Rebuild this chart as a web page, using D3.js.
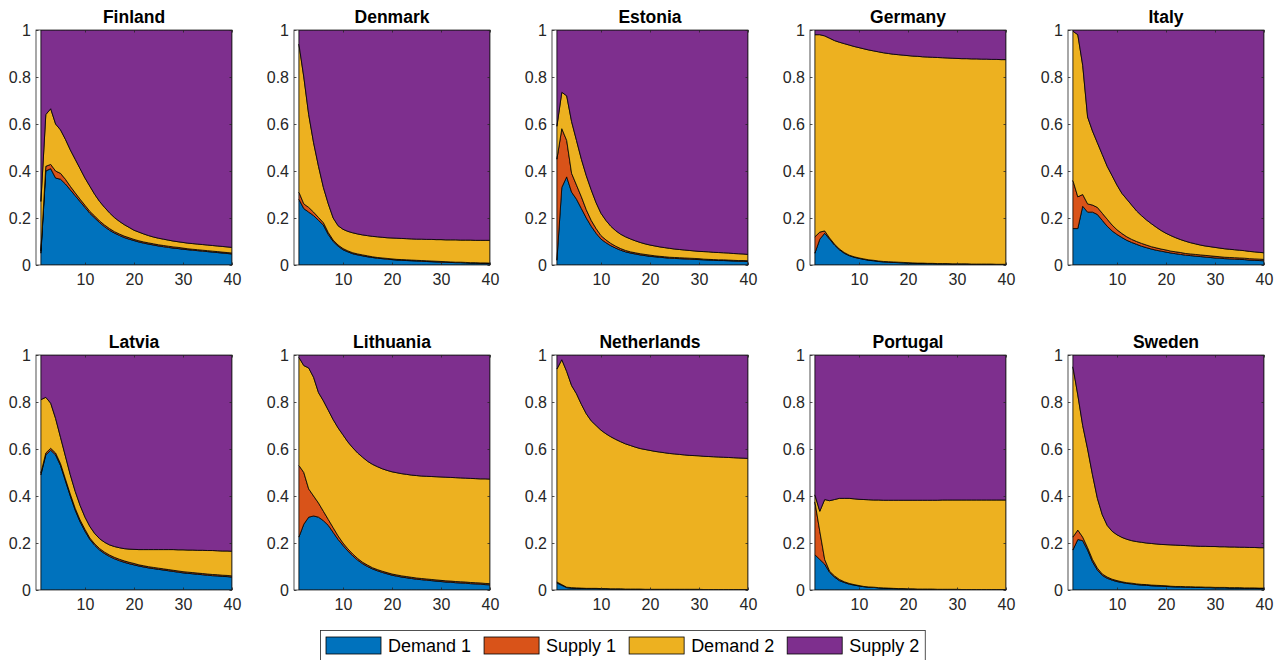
<!DOCTYPE html>
<html>
<head>
<meta charset="utf-8">
<script src="https://cdn.jsdelivr.net/npm/d3@7"></script>
<style>
  body { margin: 0; background: #fff; }
  svg text { font-family: "Liberation Sans", Arial, Helvetica, sans-serif; }
</style>
</head>
<body>
<div id="chart"></div>
<script>
// forecast horizons and shock names
const horizons = [1,2,3,4,5,6,7,8,9,10,11,12,13,14,15,16,17,18,19,20,21,22,23,24,25,26,27,28,29,30,31,32,33,34,35,36,37,38,39,40];
const shockNames = ['Demand 1', 'Supply 1', 'Demand 2', 'Supply 2'];
const shockColors = ['#0072BD', '#D95319', '#EDB120', '#7E2F8E'];
const countries = ['Finland', 'Denmark', 'Estonia', 'Germany', 'Italy', 'Latvia', 'Lithuania', 'Netherlands', 'Portugal', 'Sweden'];
const xTicks = [10, 20, 30, 40];
const yTicks = [0, 0.2, 0.4, 0.6, 0.8, 1];

// variance shares per country
const finD1 = [0.05,0.40,0.41,0.37,0.365,0.345,0.32,0.295,0.27,0.245,0.22,0.20,0.18,0.163,0.148,0.136,0.126,0.117,0.110,0.104,0.098,0.093,0.089,0.085,0.081,0.078,0.075,0.072,0.070,0.067,0.065,0.063,0.061,0.059,0.057,0.055,0.053,0.051,0.049,0.047];
const finS1 = [0.01,0.02,0.018,0.03,0.025,0.02,0.015,0.012,0.010,0.009,0.008,0.008,0.007,0.007,0.007,0.006,0.006,0.006,0.006,0.005,0.005,0.005,0.005,0.005,0.005,0.005,0.005,0.005,0.005,0.005,0.004,0.004,0.004,0.004,0.004,0.004,0.004,0.004,0.004,0.004];
const finD2 = [0.21,0.22,0.237,0.20,0.185,0.17,0.155,0.143,0.13,0.116,0.107,0.092,0.083,0.075,0.067,0.060,0.054,0.049,0.044,0.039,0.037,0.034,0.031,0.029,0.028,0.027,0.026,0.025,0.024,0.024,0.024,0.024,0.024,0.024,0.024,0.024,0.024,0.024,0.024,0.024];
const finS2 = [0.73,0.36,0.335,0.40,0.425,0.465,0.51,0.55,0.59,0.63,0.665,0.70,0.73,0.755,0.778,0.798,0.814,0.828,0.84,0.852,0.86,0.868,0.875,0.881,0.886,0.89,0.894,0.898,0.901,0.904,0.907,0.909,0.911,0.913,0.915,0.917,0.919,0.921,0.923,0.925];

const denD1 = [0.28,0.24,0.225,0.21,0.19,0.17,0.13,0.10,0.08,0.065,0.056,0.048,0.043,0.039,0.035,0.032,0.029,0.027,0.025,0.023,0.021,0.020,0.019,0.018,0.017,0.016,0.015,0.014,0.013,0.012,0.012,0.011,0.010,0.010,0.009,0.008,0.008,0.007,0.007,0.006];
const denS1 = [0.03,0.02,0.02,0.015,0.012,0.01,0.008,0.006,0.005,0.005,0.004,0.004,0.004,0.004,0.004,0.003,0.003,0.003,0.003,0.003,0.003,0.003,0.003,0.003,0.003,0.003,0.003,0.003,0.003,0.003,0.002,0.002,0.002,0.002,0.002,0.002,0.002,0.002,0.002,0.002];
const denD2 = [0.63,0.54,0.395,0.295,0.218,0.15,0.122,0.094,0.082,0.082,0.083,0.085,0.085,0.085,0.086,0.087,0.088,0.088,0.088,0.089,0.090,0.090,0.090,0.090,0.090,0.091,0.091,0.092,0.092,0.093,0.093,0.094,0.095,0.094,0.095,0.096,0.095,0.096,0.096,0.097];
const denS2 = [0.06,0.20,0.36,0.48,0.58,0.67,0.74,0.80,0.833,0.848,0.857,0.863,0.868,0.872,0.875,0.878,0.88,0.882,0.884,0.885,0.886,0.887,0.888,0.889,0.89,0.89,0.891,0.891,0.892,0.892,0.893,0.893,0.893,0.894,0.894,0.894,0.895,0.895,0.895,0.895];

const estD1 = [0.02,0.33,0.375,0.31,0.28,0.24,0.20,0.165,0.135,0.11,0.095,0.082,0.072,0.063,0.056,0.051,0.047,0.043,0.040,0.037,0.035,0.033,0.031,0.029,0.028,0.027,0.026,0.025,0.024,0.023,0.022,0.021,0.020,0.019,0.019,0.018,0.017,0.016,0.016,0.015];
const estS1 = [0.43,0.25,0.155,0.08,0.06,0.05,0.035,0.025,0.02,0.015,0.012,0.01,0.008,0.007,0.006,0.005,0.005,0.005,0.005,0.005,0.004,0.004,0.004,0.004,0.004,0.004,0.004,0.004,0.004,0.004,0.003,0.003,0.003,0.003,0.003,0.003,0.003,0.003,0.003,0.003];
const estD2 = [0.14,0.155,0.19,0.22,0.19,0.16,0.145,0.13,0.11,0.095,0.083,0.073,0.066,0.061,0.058,0.055,0.051,0.048,0.045,0.043,0.042,0.040,0.039,0.038,0.036,0.035,0.034,0.033,0.032,0.031,0.032,0.032,0.031,0.031,0.030,0.030,0.029,0.029,0.028,0.027];
const estS2 = [0.41,0.265,0.28,0.39,0.47,0.55,0.62,0.68,0.735,0.78,0.81,0.835,0.854,0.869,0.88,0.889,0.897,0.904,0.91,0.915,0.919,0.923,0.926,0.929,0.932,0.934,0.936,0.938,0.94,0.942,0.943,0.944,0.946,0.947,0.948,0.949,0.951,0.952,0.953,0.955];

const gerD1 = [0.05,0.11,0.135,0.11,0.085,0.065,0.05,0.04,0.033,0.028,0.024,0.02,0.018,0.015,0.013,0.012,0.011,0.01,0.009,0.008,0.008,0.007,0.007,0.006,0.006,0.005,0.005,0.005,0.004,0.004,0.004,0.004,0.003,0.003,0.003,0.003,0.003,0.002,0.002,0.002];
const gerS1 = [0.07,0.03,0.01,0.005,0.004,0.003,0.003,0.002,0.002,0.002,0.002,0.002,0.002,0.002,0.002,0.002,0.002,0.002,0.002,0.002,0.001,0.001,0.001,0.001,0.001,0.001,0.001,0.001,0.001,0.001,0.001,0.001,0.001,0.001,0.001,0.001,0.001,0.001,0.001,0.001];
const gerD2 = [0.86,0.84,0.83,0.85,0.866,0.88,0.889,0.894,0.895,0.895,0.894,0.893,0.891,0.89,0.888,0.886,0.884,0.883,0.882,0.881,0.88,0.88,0.878,0.878,0.877,0.877,0.876,0.875,0.875,0.874,0.873,0.873,0.873,0.873,0.872,0.872,0.871,0.872,0.871,0.871];
const gerS2 = [0.02,0.02,0.025,0.035,0.045,0.052,0.058,0.064,0.07,0.075,0.08,0.085,0.089,0.093,0.097,0.10,0.103,0.105,0.107,0.109,0.111,0.112,0.114,0.115,0.116,0.117,0.118,0.119,0.12,0.121,0.122,0.122,0.123,0.123,0.124,0.124,0.125,0.125,0.126,0.126];

const itaD1 = [0.155,0.155,0.25,0.225,0.225,0.215,0.19,0.165,0.145,0.13,0.117,0.105,0.096,0.088,0.08,0.074,0.068,0.063,0.059,0.055,0.051,0.048,0.045,0.042,0.04,0.038,0.036,0.034,0.032,0.03,0.029,0.027,0.026,0.025,0.024,0.023,0.021,0.02,0.019,0.018];
const itaS1 = [0.205,0.135,0.05,0.035,0.03,0.03,0.03,0.03,0.025,0.02,0.017,0.015,0.013,0.012,0.012,0.011,0.01,0.01,0.009,0.009,0.008,0.008,0.008,0.007,0.007,0.007,0.007,0.007,0.007,0.007,0.006,0.006,0.006,0.006,0.006,0.006,0.006,0.006,0.006,0.006];
const itaD2 = [0.635,0.69,0.55,0.37,0.315,0.275,0.25,0.225,0.21,0.19,0.171,0.16,0.146,0.13,0.118,0.107,0.098,0.088,0.079,0.071,0.066,0.06,0.055,0.052,0.048,0.045,0.042,0.04,0.039,0.038,0.037,0.036,0.035,0.034,0.033,0.032,0.031,0.03,0.029,0.028];
const itaS2 = [0.005,0.02,0.15,0.37,0.43,0.48,0.53,0.58,0.62,0.66,0.695,0.72,0.745,0.77,0.79,0.808,0.824,0.839,0.853,0.865,0.875,0.884,0.892,0.899,0.905,0.91,0.915,0.919,0.922,0.925,0.928,0.931,0.933,0.935,0.937,0.939,0.942,0.944,0.946,0.948];

const latD1 = [0.49,0.575,0.595,0.575,0.53,0.465,0.40,0.34,0.29,0.25,0.215,0.19,0.17,0.155,0.143,0.133,0.125,0.118,0.112,0.107,0.102,0.098,0.094,0.091,0.088,0.085,0.082,0.079,0.076,0.073,0.071,0.069,0.067,0.065,0.063,0.061,0.06,0.058,0.057,0.055];
const latS1 = [0.008,0.008,0.008,0.008,0.008,0.008,0.008,0.008,0.008,0.008,0.006,0.006,0.006,0.006,0.006,0.006,0.006,0.006,0.006,0.006,0.005,0.005,0.005,0.005,0.005,0.005,0.005,0.005,0.005,0.005,0.005,0.005,0.005,0.005,0.005,0.005,0.005,0.005,0.005,0.005];
const latD2 = [0.312,0.237,0.192,0.147,0.112,0.097,0.082,0.072,0.062,0.052,0.049,0.044,0.042,0.042,0.043,0.046,0.049,0.052,0.056,0.06,0.065,0.069,0.073,0.076,0.079,0.082,0.085,0.088,0.09,0.093,0.094,0.096,0.097,0.099,0.1,0.102,0.102,0.103,0.104,0.105];
const latS2 = [0.19,0.18,0.205,0.27,0.35,0.43,0.51,0.58,0.64,0.69,0.73,0.76,0.782,0.797,0.808,0.815,0.82,0.824,0.826,0.827,0.828,0.828,0.828,0.828,0.828,0.828,0.828,0.828,0.829,0.829,0.83,0.83,0.831,0.831,0.832,0.832,0.833,0.834,0.834,0.835];

const litD1 = [0.225,0.28,0.31,0.315,0.31,0.295,0.275,0.245,0.215,0.19,0.166,0.145,0.127,0.112,0.10,0.09,0.082,0.075,0.069,0.063,0.059,0.055,0.052,0.049,0.046,0.044,0.042,0.04,0.038,0.036,0.034,0.033,0.031,0.03,0.029,0.027,0.026,0.025,0.023,0.022];
const litS1 = [0.305,0.22,0.12,0.085,0.06,0.04,0.025,0.02,0.015,0.01,0.009,0.008,0.007,0.006,0.006,0.005,0.005,0.005,0.005,0.005,0.005,0.005,0.005,0.005,0.005,0.005,0.005,0.005,0.005,0.005,0.005,0.005,0.005,0.005,0.005,0.005,0.005,0.005,0.005,0.005];
const litD2 = [0.46,0.455,0.515,0.505,0.47,0.47,0.465,0.46,0.46,0.46,0.455,0.452,0.449,0.447,0.442,0.44,0.438,0.436,0.435,0.435,0.435,0.435,0.435,0.435,0.436,0.436,0.437,0.438,0.439,0.44,0.441,0.441,0.442,0.442,0.442,0.443,0.443,0.443,0.445,0.445];
const litS2 = [0.01,0.045,0.055,0.095,0.16,0.195,0.235,0.275,0.31,0.34,0.37,0.395,0.417,0.435,0.452,0.465,0.475,0.484,0.491,0.497,0.501,0.505,0.508,0.511,0.513,0.515,0.516,0.517,0.518,0.519,0.52,0.521,0.522,0.523,0.524,0.525,0.526,0.527,0.527,0.528];

const netD1 = [0.03,0.02,0.01,0.008,0.007,0.007,0.006,0.006,0.006,0.005,0.005,0.004,0.004,0.004,0.003,0.003,0.003,0.003,0.002,0.002,0.002,0.002,0.002,0.002,0.002,0.002,0.002,0.002,0.002,0.002,0.001,0.001,0.001,0.001,0.001,0.001,0.001,0.001,0.001,0.001];
const netS1 = [0.004,0.003,0.002,0.002,0.002,0.001,0.001,0.001,0.001,0.001,0.001,0.001,0.001,0.001,0.001,0.001,0.001,0.001,0.001,0.001,0.001,0.001,0.001,0.001,0.001,0.001,0.001,0.001,0.001,0.001,0.001,0.001,0.001,0.001,0.001,0.001,0.001,0.001,0.001,0.001];
const netD2 = [0.906,0.957,0.918,0.86,0.826,0.782,0.743,0.713,0.693,0.674,0.659,0.647,0.636,0.626,0.618,0.611,0.604,0.598,0.595,0.591,0.587,0.584,0.581,0.578,0.576,0.574,0.572,0.57,0.569,0.568,0.567,0.566,0.565,0.564,0.563,0.562,0.561,0.56,0.559,0.558];
const netS2 = [0.06,0.02,0.07,0.13,0.165,0.21,0.25,0.28,0.30,0.32,0.335,0.348,0.359,0.369,0.378,0.385,0.392,0.398,0.402,0.406,0.41,0.413,0.416,0.419,0.421,0.423,0.425,0.427,0.428,0.429,0.431,0.432,0.433,0.434,0.435,0.436,0.437,0.438,0.439,0.44];

const porD1 = [0.15,0.13,0.11,0.075,0.055,0.04,0.032,0.025,0.021,0.017,0.014,0.012,0.011,0.009,0.008,0.007,0.006,0.005,0.005,0.004,0.004,0.003,0.003,0.003,0.003,0.002,0.002,0.002,0.002,0.002,0.001,0.001,0.001,0.001,0.001,0.001,0.001,0.001,0.001,0.001];
const porS1 = [0.225,0.12,0.02,0.005,0.005,0.005,0.003,0.003,0.002,0.002,0.001,0.001,0.001,0.001,0.001,0.001,0.001,0.001,0.001,0.001,0.001,0.001,0.001,0.001,0.001,0.001,0.001,0.001,0.001,0.001,0.001,0.001,0.001,0.001,0.001,0.001,0.001,0.001,0.001,0.001];
const porD2 = [0.03,0.085,0.255,0.30,0.325,0.345,0.355,0.362,0.365,0.367,0.37,0.371,0.371,0.373,0.373,0.374,0.375,0.376,0.376,0.377,0.377,0.378,0.378,0.378,0.378,0.379,0.38,0.38,0.38,0.38,0.381,0.381,0.381,0.381,0.381,0.381,0.381,0.381,0.381,0.381];
const porS2 = [0.595,0.665,0.615,0.62,0.615,0.61,0.61,0.61,0.612,0.614,0.615,0.616,0.617,0.617,0.618,0.618,0.618,0.618,0.618,0.618,0.618,0.618,0.618,0.618,0.618,0.618,0.617,0.617,0.617,0.617,0.617,0.617,0.617,0.617,0.617,0.617,0.617,0.617,0.617,0.617];

const sweD1 = [0.17,0.215,0.21,0.17,0.12,0.085,0.062,0.05,0.042,0.036,0.032,0.028,0.026,0.023,0.021,0.02,0.018,0.017,0.016,0.015,0.014,0.013,0.013,0.012,0.012,0.011,0.011,0.010,0.010,0.009,0.009,0.009,0.008,0.008,0.008,0.007,0.007,0.007,0.006,0.006];
const sweS1 = [0.055,0.04,0.015,0.01,0.01,0.008,0.006,0.005,0.004,0.004,0.003,0.003,0.003,0.003,0.003,0.003,0.003,0.003,0.003,0.003,0.002,0.002,0.002,0.002,0.002,0.002,0.002,0.002,0.002,0.002,0.002,0.002,0.002,0.002,0.002,0.002,0.002,0.002,0.002,0.002];
const sweD2 = [0.725,0.575,0.475,0.42,0.36,0.297,0.252,0.22,0.204,0.195,0.189,0.185,0.181,0.18,0.179,0.177,0.177,0.176,0.175,0.175,0.176,0.176,0.175,0.175,0.174,0.174,0.173,0.174,0.173,0.174,0.173,0.173,0.173,0.173,0.172,0.173,0.172,0.172,0.172,0.172];
const sweS2 = [0.05,0.17,0.30,0.40,0.51,0.61,0.68,0.725,0.75,0.765,0.776,0.784,0.79,0.794,0.797,0.8,0.802,0.804,0.806,0.807,0.808,0.809,0.81,0.811,0.812,0.813,0.814,0.814,0.815,0.815,0.816,0.816,0.817,0.817,0.818,0.818,0.819,0.819,0.82,0.82];

const sharesByCountry = {
  Finland: [finD1, finS1, finD2, finS2],
  Denmark: [denD1, denS1, denD2, denS2],
  Estonia: [estD1, estS1, estD2, estS2],
  Germany: [gerD1, gerS1, gerD2, gerS2],
  Italy: [itaD1, itaS1, itaD2, itaS2],
  Latvia: [latD1, latS1, latD2, latS2],
  Lithuania: [litD1, litS1, litD2, litS2],
  Netherlands: [netD1, netS1, netD2, netS2],
  Portugal: [porD1, porS1, porD2, porS2],
  Sweden: [sweD1, sweS1, sweD2, sweS2]
};

// layout
const width = 1288, height = 660;
const colLeft = [36, 294, 552, 810, 1068];
const rowTop = [30, 355];
const plotW = 196, plotH = 235;
const axisColor = '#262626';
const tickLen = 2.5;

const svg = d3.select('#chart').append('svg')
  .attr('width', width)
  .attr('height', height);

const x = d3.scaleLinear().domain([0, 40]).range([0, plotW]);
const y = d3.scaleLinear().domain([0, 1]).range([plotH, 0]);

const stack = d3.stack().keys(shockNames);
const area = d3.area()
  .x(d => x(d.data.h))
  .y0(d => y(d[0]))
  .y1(d => y(d[1]));

countries.forEach((country, i) => {
  const col = i % 5, row = Math.floor(i / 5);
  const g = svg.append('g')
    .attr('transform', `translate(${colLeft[col]},${rowTop[row]})`);

  const shares = sharesByCountry[country];
  const rows = horizons.map((h, k) => {
    const r = { h: h };
    shockNames.forEach((s, j) => { r[s] = shares[j][k]; });
    return r;
  });

  const clipId = 'clip' + i;
  g.append('clipPath').attr('id', clipId)
    .append('rect').attr('width', plotW).attr('height', plotH);

  g.append('g').attr('clip-path', `url(#${clipId})`)
    .selectAll('path')
    .data(stack(rows))
    .join('path')
    .attr('d', area)
    .attr('fill', (d, j) => shockColors[j])
    .attr('stroke', '#000')
    .attr('stroke-width', 0.8)
    .attr('stroke-linejoin', 'round');

  // axes (ticks pointing inward, MATLAB style)
  g.append('g')
    .attr('transform', `translate(0,${plotH})`)
    .call(d3.axisBottom(x).tickValues(xTicks).tickSizeInner(-tickLen).tickSizeOuter(0).tickPadding(9));
  g.append('g')
    .call(d3.axisTop(x).tickValues(xTicks).tickSizeInner(-tickLen).tickSizeOuter(0).tickFormat(''));
  g.append('g')
    .call(d3.axisLeft(y).tickValues(yTicks).tickSizeInner(-tickLen).tickSizeOuter(0).tickPadding(5)
      .tickFormat(d3.format('~g')));
  g.append('g')
    .attr('transform', `translate(${plotW},0)`)
    .call(d3.axisRight(y).tickValues(yTicks).tickSizeInner(-tickLen).tickSizeOuter(0).tickFormat(''));

  g.selectAll('.domain').remove();
  g.selectAll('.tick line').attr('stroke', axisColor).attr('stroke-width', 0.8);
  g.selectAll('.tick text')
    .attr('fill', axisColor)
    .style('font-size', '16px');

  g.append('rect')
    .attr('x', 0).attr('y', 0)
    .attr('width', plotW).attr('height', plotH)
    .attr('fill', 'none')
    .attr('stroke', axisColor)
    .attr('stroke-width', 0.8);

  g.append('text')
    .attr('x', plotW / 2)
    .attr('y', -7)
    .attr('text-anchor', 'middle')
    .style('font-size', '17.5px')
    .style('font-weight', 'bold')
    .attr('fill', '#000')
    .text(country);
});

// legend
const legend = svg.append('g');
const legendBox = legend.append('rect')
  .attr('x', 320.5).attr('y', 630.5)
  .attr('height', 40)
  .attr('fill', '#fff')
  .attr('stroke', '#262626')
  .attr('stroke-width', 0.8);

let lx = 326;
shockNames.forEach((name, j) => {
  legend.append('rect')
    .attr('x', lx).attr('y', 637)
    .attr('width', 55).attr('height', 17)
    .attr('fill', shockColors[j])
    .attr('stroke', '#000')
    .attr('stroke-width', 0.8);
  const t = legend.append('text')
    .attr('x', lx + 62)
    .attr('y', 652)
    .style('font-size', '18px')
    .attr('fill', '#000')
    .text(name);
  lx = lx + 62 + t.node().getComputedTextLength() + 13;
});
legendBox.attr('width', lx - 13 + 6 - 320.5);
</script>
</body>
</html>
